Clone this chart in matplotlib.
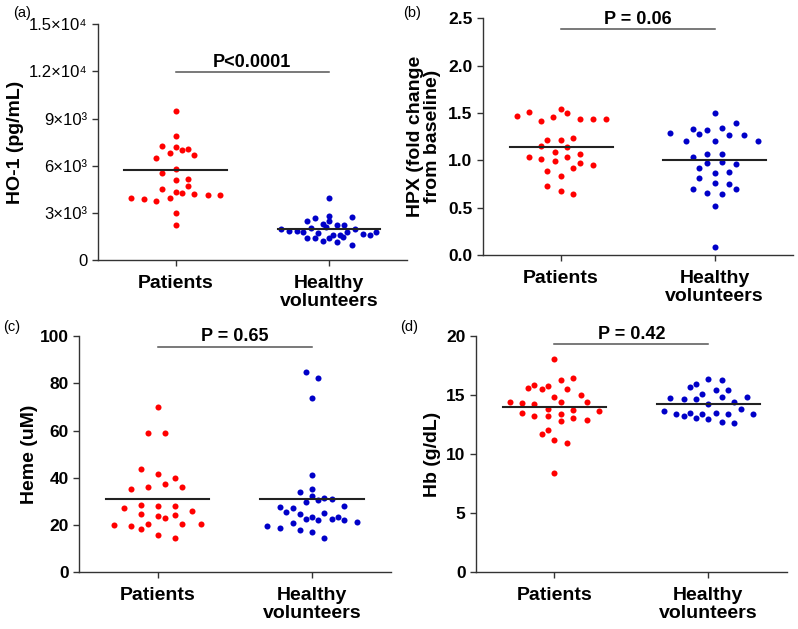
import numpy as np
import matplotlib.pyplot as plt

plt.rcParams['font.family'] = ['Liberation Sans', 'DejaVu Sans']

groups = ["Patients", "Healthy\nvolunteers"]
red = "#ff0000"
blue = "#0000c8"

# (a) HO-1 (pg/mL)
ho1_pat = [9484, 7893, 7236, 7172, 7002, 7065, 6790, 6472, 6663, 5772, 5559, 5156, 5071,
           4731, 4540, 4328, 4265, 3966, 4180, 4137, 4137, 3946, 3861, 3776, 3012, 2207]
ho1_pat_dx = [0, 0, -0.09, 0, 0.04, 0.08, -0.04, -0.13, 0.12, 0, -0.09, 0.08, 0,
              0.08, -0.09, 0, 0.04, -0.04, 0.12, 0.21, 0.29, -0.29, -0.21, -0.13, 0, 0]
ho1_hv = [3965, 2820, 2652, 2716, 2461, 2503, 2270, 2100, 2228, 2228, 2016, 1952, 1952, 1867, 1824,
          1761, 1697, 1803, 1591, 1591, 1676, 1570, 1782, 1379, 1379, 1421, 1464, 1230, 1124, 955]
ho1_hv_dx = [0, 0, -0.09, 0.15, -0.14, 0, -0.04, -0.02, 0.05, 0.10, -0.12, 0.17, -0.31, -0.26, -0.21,
             -0.17, -0.07, 0.12, 0.03, 0.07, 0.22, 0.27, 0.31, -0.14, -0.09, 0, 0.09, -0.04, 0.05, 0.15]
ho1_means = [5750, 1973]

# (b) HPX fold change
hpx_pat = [1.468, 1.507, 1.415, 1.461, 1.539, 1.497, 1.440, 1.440, 1.440, 1.218, 1.218, 1.239, 1.148, 1.141,
           1.088, 1.070, 1.039, 1.011, 0.990, 1.039, 0.972, 0.951, 0.919, 0.891, 0.838, 0.729, 0.679, 0.648]
hpx_pat_dx = [-0.29, -0.21, -0.13, -0.05, 0, 0.04, 0.12, 0.21, 0.29, -0.09, 0, 0.08, -0.13, 0.04,
              -0.04, 0.12, -0.21, -0.13, -0.04, 0.04, 0.12, 0.21, 0.08, -0.09, 0, -0.09, 0, 0.08]
hpx_hv = [1.497, 1.398, 1.289, 1.328, 1.278, 1.317, 1.338, 1.268, 1.268, 1.201, 1.201, 1.201, 1.039, 1.070, 1.063,
          0.968, 0.986, 0.958, 0.915, 0.863, 0.877, 0.817, 0.761, 0.747, 0.697, 0.697, 0.658, 0.648, 0.518, 0.088]
hpx_hv_dx = [0, 0.14, -0.29, -0.14, -0.10, -0.05, 0.05, 0.09, 0.19, -0.19, 0, 0.28, -0.14, -0.05, 0.05,
             -0.05, 0.05, 0.14, -0.10, 0, 0.09, -0.10, 0, 0.09, -0.14, 0.14, -0.05, 0.05, 0, 0]
hpx_means = [1.145, 1.0]

# (c) Heme (uM)
heme_pat = [69.9, 58.8, 58.8, 43.6, 41.5, 40.0, 37.5, 35.4, 36.1, 36.1, 27.3, 28.6, 28.1, 28.1,
            25.8, 24.7, 24.0, 22.9, 24.1, 19.9, 19.5, 20.3, 20.6, 20.4, 18.2, 15.8, 14.6]
heme_pat_dx = [0, -0.06, 0.05, -0.11, 0, 0.11, 0.05, -0.17, -0.06, 0.16, -0.22, -0.11, 0, 0.11,
               0.22, -0.11, 0, 0.05, 0.11, -0.28, -0.17, -0.06, 0.16, 0.28, -0.11, 0, 0.11]
heme_hv = [84.6, 82.4, 73.6, 41.3, 35.4, 33.9, 32.2, 30.6, 31.3, 30.9, 29.6, 27.8, 27.2, 28.2, 25.6,
           24.8, 25.2, 23.4, 22.4, 22.1, 22.7, 23.4, 22.0, 21.3, 19.7, 18.9, 21.0, 17.9, 17.1, 14.6]
heme_hv_dx = [-0.04, 0.04, 0, 0, 0, -0.08, 0, 0.04, 0.08, 0.13, -0.04, -0.21, -0.12, 0.21, -0.17,
              -0.08, 0.08, 0, -0.04, 0.04, 0.13, 0.17, 0.21, 0.29, -0.29, -0.21, -0.12, -0.08, 0, 0.08]
heme_means = [31.2, 31.2]

# (d) Hb (g/dL)
hb_pat = [18.05, 16.28, 16.47, 15.57, 15.88, 15.49, 15.79, 15.49, 14.86, 15.01, 14.39, 14.30, 14.22, 14.39, 14.39,
          13.82, 13.76, 13.68, 13.48, 13.26, 13.26, 13.40, 13.06, 12.78, 12.87, 12.07, 11.68, 11.17, 10.97, 8.43]
hb_pat_dx = [0, 0.04, 0.12, -0.17, -0.13, -0.08, -0.04, 0.08, 0, 0.17, -0.29, -0.21, -0.13, 0.04, 0.21,
             -0.04, 0.12, 0.29, -0.21, -0.13, -0.04, 0.04, 0.12, 0.04, 0.21, -0.04, -0.08, 0, 0.08, 0]
hb_hv = [16.36, 16.28, 15.68, 15.96, 15.46, 15.46, 15.06, 14.86, 14.78, 14.67, 14.67, 14.86, 14.27, 14.39,
         13.68, 13.85, 13.37, 13.26, 13.48, 13.06, 13.40, 13.46, 12.95, 13.40, 12.75, 12.61, 13.37]
hb_hv_dx = [0, 0.09, -0.12, -0.08, 0.05, 0.13, -0.04, 0.09, -0.25, -0.16, -0.08, 0.25, 0, 0.17,
            -0.29, 0.21, -0.21, -0.16, -0.12, -0.08, -0.04, 0.05, 0, 0.13, 0.09, 0.17, 0.29]
hb_means = [13.95, 14.27]

fig = plt.figure(figsize=(7.98, 6.29), dpi=100)

panels = [
    # letter, rect, ylabel, ymax, yticks, ticklabels, bold ticks, data, means, p text, p level, labelpad
    ("(a)", [0.1224, 0.5866, 0.3876, 0.3747], "HO-1 (pg/mL)", 15000, np.arange(0, 15001, 3000),
     ["0", "3×10³", "6×10³", "9×10³", "1.2×10⁴", "1.5×10⁴"], False,
     (ho1_pat, ho1_pat_dx, ho1_hv, ho1_hv_dx), ho1_means, "P<0.0001", 11950, 3),
    ("(b)", [0.6049, 0.5946, 0.3889, 0.3763], "HPX (fold change\nfrom baseline)", 2.5,
     np.arange(0, 2.51, 0.5), ["0.0", "0.5", "1.0", "1.5", "2.0", "2.5"], True,
     (hpx_pat, hpx_pat_dx, hpx_hv, hpx_hv_dx), hpx_means, "P = 0.06", 2.387, 5),
    ("(c)", [0.0990, 0.0901, 0.3906, 0.3757], "Heme (uM)", 100, np.arange(0, 101, 20),
     ["0", "20", "40", "60", "80", "100"], True,
     (heme_pat, heme_pat_dx, heme_hv, heme_hv_dx), heme_means, "P = 0.65", 95.5, 1),
    ("(d)", [0.5965, 0.0901, 0.3893, 0.3757], "Hb (g/dL)", 20, np.arange(0, 21, 5),
     ["0", "5", "10", "15", "20"], True,
     (hb_pat, hb_pat_dx, hb_hv, hb_hv_dx), hb_means, "P = 0.42", 19.3, 4),
]

letter_pos = [(13, 6), (403, 6), (3, 320), (400, 320)]

for (letter, rect, ylabel, ymax, yt, ytl, bold, data, means, ptxt, plev, lpad), lp in zip(panels, letter_pos):
    ax = fig.add_axes(rect)
    pat, pat_dx, hv, hv_dx = data
    ax.scatter(np.array(pat_dx), pat, s=19, color=red, linewidths=0, zorder=3)
    ax.scatter(1 + np.array(hv_dx), hv, s=19, color=blue, linewidths=0, zorder=3)
    for i, m in enumerate(means):
        ax.plot([i - 0.335, i + 0.335], [m, m], color="#222222", lw=1.5, zorder=4)
    ax.plot([0, 1], [plev, plev], color="#555555", lw=1.1, clip_on=False)
    ax.text(0.5, plev + ymax * 0.006, ptxt, ha="center", va="bottom", fontsize=13,
            fontweight="bold", clip_on=False)
    ax.set_xlim(-0.51, 1.51)
    ax.set_ylim(0, ymax)
    ax.set_xticks([0, 1])
    ax.set_xticklabels(groups, fontsize=14, fontweight="bold", linespacing=1.1)
    ax.set_yticks(yt)
    ax.set_yticklabels(ytl, fontsize=12.5 if bold else 12, fontweight="bold" if bold else "normal")
    ax.set_ylabel(ylabel, fontsize=14, fontweight="bold", linespacing=1.0, labelpad=lpad)
    for side in ["top", "right"]:
        ax.spines[side].set_visible(False)
    for side in ["left", "bottom"]:
        ax.spines[side].set_linewidth(1.0)
        ax.spines[side].set_color("#333333")
    ax.tick_params(direction="out", length=4.5, width=1.0, color="#333333", pad=3)
    ax.tick_params(axis="x", pad=6)
    fig.text(lp[0] / 798, 1 - lp[1] / 629, letter, ha="left", va="top", fontsize=10.5)

fig.savefig("out.png", dpi=100)
